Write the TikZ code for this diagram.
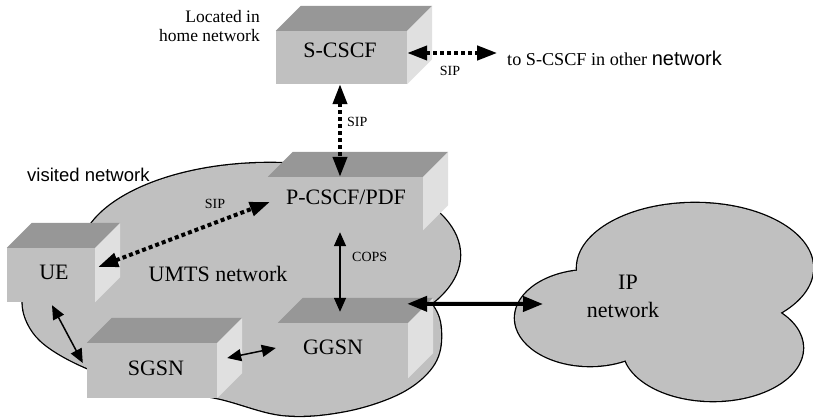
\documentclass[tikz,border=0pt]{standalone}
\usepackage{fontspec}
\setmainfont{Liberation Serif}
\newfontfamily\sansfont{Liberation Sans}
\usetikzlibrary{arrows.meta}

\definecolor{facegray}{RGB}{192,192,192}
\definecolor{topgray}{RGB}{151,151,151}
\definecolor{sidegray}{RGB}{224,224,224}

\tikzset{
  frontface/.style={fill=facegray, draw=none, inner sep=0pt},
  boxlabel/.style={font=\fontsize{22}{24}\selectfont, inner sep=0pt, anchor=base},
  smalllabel/.style={font=\fontsize{14}{16}\selectfont, inner sep=0pt, anchor=base},
  notelabel/.style={font=\fontsize{17.5}{20}\selectfont, inner sep=0pt},
  outline/.style={draw=black, line width=2.6pt},
  sipline/.style={line width=4pt, dash pattern=on 4pt off 3pt,
    {Triangle[length=20pt,width=14pt]}-{Triangle[length=20pt,width=14pt]}},
  thinlink/.style={line width=1.5pt,
    {Triangle[length=14pt,width=12pt]}-{Triangle[length=14pt,width=12pt]}},
  thicklink/.style={line width=4pt,
    {Triangle[length=20pt,width=15pt]}-{Triangle[length=20pt,width=15pt]}},
}

% top and right faces of a box whose front face is node #1
\newcommand\drawboxfaces[1]{%
  \fill[topgray] (#1.north west) -- ++(25,-25) -- ([shift={(25,-25)}]#1.north east) -- (#1.north east) -- cycle;
  \fill[sidegray] (#1.north east) -- ++(25,-25) -- ([shift={(25,-25)}]#1.south east) -- (#1.south east) -- cycle;}

\begin{document}
\begin{tikzpicture}[x=1pt, y=-1pt]
\useasboundingbox (0,0) rectangle (813,419);

% visited network: two overlapping lobes
\draw[outline] (270,255) ellipse [x radius=190pt, y radius=92pt];
\draw[outline] plot[smooth cycle, tension=0.6] coordinates {
  (23,307) (40,340) (87,368) (150,387) (217,398) (283,415) (345,411)
  (400,393) (432,367) (441,337) (432,305) (390,270) (250,250) (100,262) (35,285)};
\fill[facegray] (270,255) ellipse [x radius=190pt, y radius=92pt];
\fill[facegray] plot[smooth cycle, tension=0.6] coordinates {
  (23,307) (40,340) (87,368) (150,387) (217,398) (283,415) (345,411)
  (400,393) (432,367) (441,337) (432,305) (390,270) (250,250) (100,262) (35,285)};

% IP network cloud
\draw[outline] (695,268) ellipse [x radius=118pt, y radius=65pt];
\draw[outline] (713,348) ellipse [x radius=90pt, y radius=53pt];
\draw[outline] (590,318) ellipse [x radius=75pt, y radius=48pt];
\fill[facegray] (695,268) ellipse [x radius=118pt, y radius=65pt];
\fill[facegray] (713,348) ellipse [x radius=90pt, y radius=53pt];
\fill[facegray] (590,318) ellipse [x radius=75pt, y radius=48pt];
\coordinate (ipin) at (543,304);

% network elements
\node[frontface, minimum width=131pt, minimum height=53pt] (scscf) at (341.5,57.5) {};
\node[frontface, minimum width=155pt, minimum height=53pt] (pcscf) at (345.5,203.5) {};
\node[frontface, minimum width=88pt,  minimum height=54pt] (ue)    at (51,275) {};
\node[frontface, minimum width=130pt, minimum height=55pt] (sgsn)  at (152,370.5) {};
\node[frontface, minimum width=130pt, minimum height=55pt] (ggsn)  at (343,350.5) {};
\drawboxfaces{scscf}
\drawboxfaces{pcscf}
\drawboxfaces{ue}
\drawboxfaces{sgsn}
\drawboxfaces{ggsn}

\node[boxlabel] at (340,58) {S-CSCF};
\node[boxlabel] at (346,205) {P-CSCF/PDF};
\node[boxlabel] at (54,280) {UE};
\node[boxlabel] at (156,375) {SGSN};
\node[boxlabel] at (333,354) {GGSN};
\node[boxlabel] at (218,282) {UMTS network};
\node[boxlabel] at (628,290) {IP};
\node[boxlabel] at (623,317) {network};

\node[notelabel, anchor=base east] at (260,23) {Located in};
\node[notelabel, anchor=base east] at (260,42) {home network};
\node[inner sep=0pt, anchor=base west, font=\fontsize{18.2}{20}\selectfont] at (507,66) {to S-CSCF in other {\sansfont\fontsize{20}{22}\selectfont network}};
\node[inner sep=0pt, anchor=base west, font=\sansfont\fontsize{18.5}{20}\selectfont] at (27,182) {visited network};

% signalling and transport links
\draw[sipline] ([yshift=4.5pt]scscf.east) -- ++(90,0);
\node[smalllabel] at (450,76) {SIP};
\draw[sipline] ([xshift=-1.5pt]scscf.south) -- ([xshift=-5.5pt]pcscf.north);
\node[smalllabel, anchor=base west] at (347,127) {SIP};
\draw[sipline] ([xshift=3pt,yshift=8pt]ue.east) -- ([xshift=2pt,yshift=1.5pt]pcscf.west);
\node[smalllabel] at (215,209) {SIP};
\draw[thinlink] ([xshift=-5.5pt,yshift=-2pt]pcscf.south) -- ([xshift=-3pt,yshift=11pt]ggsn.north);
\node[smalllabel, anchor=base west] at (352,262) {COPS};
\draw[thinlink] ([xshift=1pt,yshift=-3pt]ue.south) -- ([xshift=-4pt,yshift=7.5pt]sgsn.west);
\draw[thinlink] ([xshift=10pt,yshift=12.5pt]sgsn.east) -- ([xshift=-2pt,yshift=2.5pt]ggsn.west);
\draw[thicklink] ([xshift=-1pt,yshift=19pt]ggsn.north east) -- (ipin);
\end{tikzpicture}
\end{document}
